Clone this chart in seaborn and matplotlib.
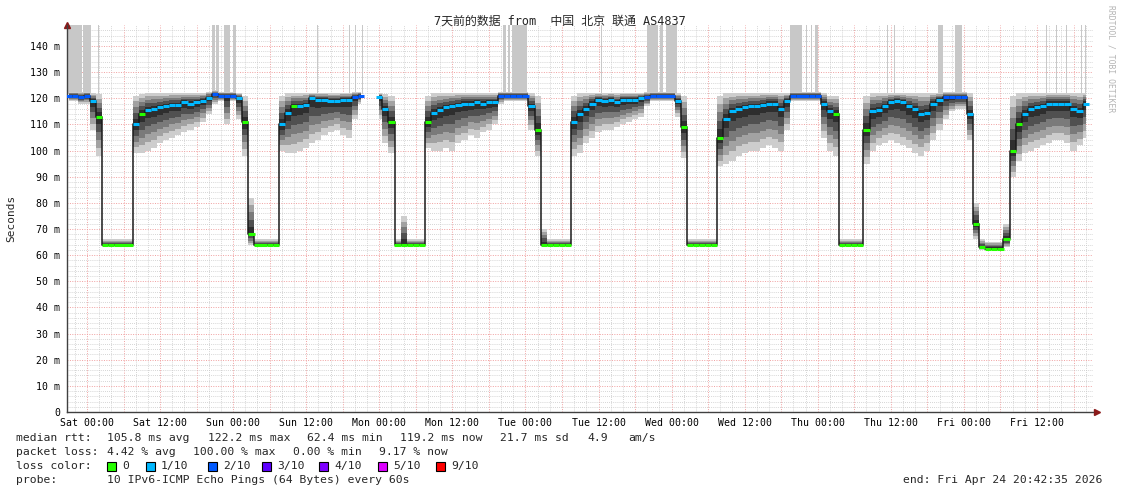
import numpy as np
import pandas as pd
import seaborn as sns
import matplotlib.pyplot as plt
from matplotlib.patches import Rectangle

# hourly samples, hour 0 = Sat 00:00
hours = np.arange(-3, 165)

median = [
    121, 121, 120.5,
    121, 119, 113, 64, 64, 64, 64, 64, 110, 114, 115.5, 116, 116.5, 117, 117.5, 117.5, 118.5, 118, 118.5, 119, 120, 121.5, 121, 121,
    121, 120, 111, 68, 64, 64, 64, 64, 110, 114.5, 117, 117, 117.5, 120, 119.5, 119.5, 119, 119, 119.5, 119.5, 120.5, 121, np.nan, np.nan,
    120.5, 116, 111, 64, 64, 64, 64, 64, 111, 114.5, 115.5, 116.5, 117, 117.5, 118, 118, 118.5, 118, 118.5, 118.5, 121, 121, 121, 121,
    121, 117, 108, 64, 64, 64, 64, 64, 111, 114, 116, 118, 119.5, 119, 119.5, 118.5, 119.5, 119.5, 119.5, 120, 120.5, 121, 121, 121,
    121, 119, 109, 64, 64, 64, 64, 64, 105, 112, 115, 116, 116.5, 117, 117, 117.5, 118, 118, 116, 119, 121, 121, 121, 121,
    121, 118, 115, 114, 64, 64, 64, 64, 108, 115, 115.5, 117, 118.5, 119, 118.5, 117, 116, 114, 114.5, 118, 119.5, 120.5, 120.5, 120.5,
    120.5, 114, 72, 63, 62.5, 62.5, 62.5, 66, 100, 110, 114, 116, 116.5, 117, 118, 118, 118, 118, 116, 115, 118,
]

smoke_lo = [
    119, 119, 118,
    118, 108, 98, 63.5, 63.5, 63.5, 63.5, 63.5, 99, 99, 100, 101, 103, 104, 105, 106, 107, 108, 109, 111, 114, 118, 119, 110,
    119, 112, 98, 64, 63.5, 63.5, 63.5, 63.5, 100, 99, 99, 100, 101, 103, 104, 106, 107, 108, 106, 105, 112, 118, np.nan, np.nan,
    112, 103, 99, 63.5, 63.5, 63.5, 63.5, 63.5, 101, 100, 100, 101, 100, 103, 104, 106, 105, 107, 108, 110, 118, 119, 119, 119,
    119, 108, 98, 63.5, 63.5, 63.5, 63.5, 63.5, 98, 99, 103, 105, 107, 108, 108, 109, 110, 111, 112, 113, 117, 119, 119, 119,
    119, 113, 97, 63.5, 63.5, 63.5, 63.5, 63.5, 94, 95, 96, 98, 99, 100, 100, 101, 102, 101, 100, 108, 119, 119, 119, 119,
    119, 105, 100, 98, 63.5, 63.5, 63.5, 63.5, 95, 100, 102, 103, 104, 103, 102, 101, 99, 98, 100, 104, 108, 112, 115, 116,
    116, 104, 66, 62, 62, 62, 62, 63, 90, 96, 99, 100, 101, 102, 103, 104, 104, 103, 100, 102, 105,
]

smoke_hi = [
    122.5, 122.5, 122.5,
    122.5, 122, 121.5, 66, 66, 66, 66, 66, 121, 121.5, 122, 122, 122, 122, 122, 122, 122, 122, 122, 122, 122.5, 123, 122.5, 122.5,
    122.5, 122, 121, 82, 66, 66, 66, 66, 121, 122, 122, 122, 122, 122, 122, 122, 122, 122, 122, 122, 122.5, 122.5, np.nan, np.nan,
    122, 121.5, 121, 66, 75, 66, 66, 66, 121, 122, 122, 122, 122, 122, 122, 122, 122, 122, 122, 122, 122.5, 122.5, 122.5, 122.5,
    122.5, 122, 121, 70, 66, 66, 66, 66, 121, 122, 122, 122, 122, 122, 122, 122, 122, 122, 122, 122, 122.5, 122.5, 122.5, 122.5,
    122.5, 122, 121, 66, 66, 66, 66, 66, 121, 122, 122, 122, 122, 122, 122, 122, 122, 122, 122, 122, 122.5, 122.5, 122.5, 122.5,
    122.5, 122, 121, 121, 66, 66, 66, 66, 121, 122, 122, 122, 122, 122, 122, 122, 122, 122, 122, 122, 122, 122.5, 122.5, 122.5,
    122.5, 122, 80, 66, 65, 65, 65, 72, 121, 122, 122, 122, 122, 122, 122, 122, 122, 122, 122, 122, 122,
]

# loss in tenths per hour
loss = [
    2, 2, 2,
    2, 1, 0, 0, 0, 0, 0, 0, 1, 0, 1, 1, 1, 1, 1, 1, 1, 1, 1, 1, 1, 2, 2, 2,
    2, 1, 0, 0, 0, 0, 0, 0, 1, 1, 0, 1, 1, 1, 1, 1, 1, 1, 1, 1, 2, 2, 1, 1,
    1, 1, 0, 0, 0, 0, 0, 0, 0, 1, 1, 1, 1, 1, 1, 1, 1, 1, 1, 1, 2, 2, 2, 2,
    2, 1, 0, 0, 0, 0, 0, 0, 1, 1, 1, 1, 1, 1, 1, 1, 1, 1, 1, 1, 2, 2, 2, 2,
    2, 1, 0, 0, 0, 0, 0, 0, 0, 1, 1, 1, 1, 1, 1, 1, 1, 1, 1, 1, 2, 2, 2, 2,
    2, 1, 1, 0, 0, 0, 0, 0, 0, 1, 1, 1, 1, 1, 1, 1, 1, 1, 1, 1, 1, 2, 2, 2,
    2, 1, 0, 0, 0, 0, 0, 0, 0, 0, 1, 1, 1, 1, 1, 1, 1, 1, 1, 1, 1,
]

# hours where some pings were lost (drawn as light grey columns)
loss_start = [-3.1, -0.7, 1.8, 20.5, 21.2, 22.5, 24.0, 37.8, 43.1, 44.0, 45.2, 68.3, 69.1, 69.8, 84.4,
              92.0, 94.1, 95.1, 115.4, 118.1, 118.9, 119.6, 131.4, 132.6, 139.8, 142.5, 157.5, 159.2,
              160.8, 163.3, 163.9]
loss_end = [-0.8, 0.65, 1.95, 21.0, 21.6, 23.5, 24.5, 37.95, 43.25, 44.15, 45.35, 68.8, 69.4, 72.3, 84.55,
            93.8, 94.6, 96.9, 117.4, 118.3, 119.1, 120.0, 131.55, 132.75, 140.6, 143.7, 157.65, 159.35,
            160.95, 163.45, 164.05]

days = ["Sat", "Sun", "Mon", "Tue", "Wed", "Thu", "Fri"]
loss_names = ["0", "1/10", "2/10", "3/10", "4/10", "5/10", "9/10"]
loss_colors = ["#26ff00", "#00b8ff", "#0059ff", "#5e00ff", "#7e00ff", "#dd00ff", "#ff0000"]

df = pd.DataFrame({"hour": hours, "median": median, "lo": smoke_lo, "hi": smoke_hi,
                   "loss": [loss_names[i] for i in loss]})
df["run"] = df["median"].isna().cumsum()

sns.set_style("white")
plt.rcParams["font.family"] = ["DejaVu Sans Mono", "Noto Sans CJK SC"]

W, H = 1121, 494
fig = plt.figure(figsize=(W / 100, H / 100), dpi=100)
ax = fig.add_axes([67 / W, 82 / H, 1026 / W, 387 / H])
ax.set_xlim(-3.28, 165.2)
ax.set_ylim(0, 148.05)

# grid
ax.set_xticks(np.arange(-2, 165, 2), minor=True)
ax.set_yticks(np.arange(0, 141, 10))
ax.set_yticks(np.arange(0, 148, 2), minor=True)
ax.grid(which="minor", color="#c8c8c8", linestyle=(0, (1, 1.5)), linewidth=0.6)
ax.grid(which="major", color="#f0a0a0", linestyle=(0, (1, 1.5)), linewidth=0.7)
ax.set_axisbelow(True)

# lost pings
ax.bar([(s + e) / 2 for s, e in zip(loss_start, loss_end)], 30,
       width=[max(e - s, 0.17) for s, e in zip(loss_start, loss_end)],
       bottom=121.5, color="#c8c8c8", linewidth=0, zorder=1)

# smoke
for f, c in [(1.0, "#cdcdcd"), (0.8, "#a2a2a2"), (0.6, "#7a7a7a"), (0.4, "#505050"), (0.2, "#2e2e2e")]:
    lo = df["median"] - (df["median"] - df["lo"]) * f
    hi = df["median"] + (df["hi"] - df["median"]) * f
    ax.fill_between(df["hour"], lo, hi, step="mid", color=c, linewidth=0, zorder=2)

# median line + loss colour
good = df.dropna()
sns.lineplot(data=good, x="hour", y="median", units="run", estimator=None, color="#1a1a1a",
             linewidth=1.1, drawstyle="steps-mid", ax=ax, zorder=3)
sns.scatterplot(data=good, x="hour", y="median", hue="loss", palette=dict(zip(loss_names, loss_colors)),
                marker="_", s=20, linewidth=2.2, legend=False, ax=ax, zorder=4)

# axes
xt_major = np.arange(0, 165, 6)
ax.set_xticks(xt_major)
ax.set_xticklabels([f"{days[h // 24]} {h % 24:02d}:00" if h % 12 == 0 else "" for h in xt_major])
ax.set_yticklabels(["0"] + [f"{v} m" for v in range(10, 141, 10)])
ax.tick_params(axis="both", which="both", length=0, pad=5, labelsize=7.1, colors="#000000")
ax.tick_params(axis="x", pad=4)
ax.set_xlabel("")
ax.set_ylabel("Seconds", fontsize=8)
ax.yaxis.set_label_coords(-51 / 1026, 0.5)
for side in ["top", "right"]:
    ax.spines[side].set_visible(False)
for side in ["left", "bottom"]:
    ax.spines[side].set_color("#404040")
    ax.spines[side].set_linewidth(1.0)
ax.plot([0], [1.0], marker="^", color="#8b1a1a", markersize=4, transform=ax.transAxes, clip_on=False)
ax.plot([1.004], [0], marker=">", color="#8b1a1a", markersize=4, transform=ax.transAxes, clip_on=False)

fig.text(560 / W, 1 - 21 / H, "7天前的数据 from  中国 北京 联通 AS4837", ha="center", va="center", fontsize=8.6)
fig.text(1111 / W, 1 - 5 / H, "RRDTOOL / TOBI OETIKER", rotation=270, ha="center", va="top",
         fontsize=5.8, color="#b4b4b4")

# legend / summary lines
def put(x, y, s, **kw):
    fig.text(x / W, 1 - y / H, s, va="center", fontsize=8.2, **kw)

for x, s in [(16, "median rtt:"), (107, "105.8 ms avg"), (208, "122.2 ms max"), (307, "62.4 ms min"),
             (400, "119.2 ms now"), (500, "21.7 ms sd"), (587, "4.9"), (628, "am/s")]:
    put(x, 438, s)
for x, s in [(16, "packet loss:"), (107, "4.42 % avg"), (193, "100.00 % max"), (293, "0.00 % min"),
             (379, "9.17 % now")]:
    put(x, 452, s)
put(16, 466, "loss color:")
sq_x = [107, 146, 208, 262, 319, 378, 436]
for x, name, col in zip(sq_x, loss_names, loss_colors):
    fig.patches.append(Rectangle((x / W, 1 - 471 / H), 9 / W, 9 / H, transform=fig.transFigure,
                                 facecolor=col, edgecolor="black", linewidth=0.8))
    put(x + 15, 466, name)
put(16, 480, "probe:")
put(107, 480, "10 IPv6-ICMP Echo Pings (64 Bytes) every 60s")
put(1102, 480, "end: Fri Apr 24 20:42:35 2026", ha="right")

fig.savefig("out.png", dpi=100)
